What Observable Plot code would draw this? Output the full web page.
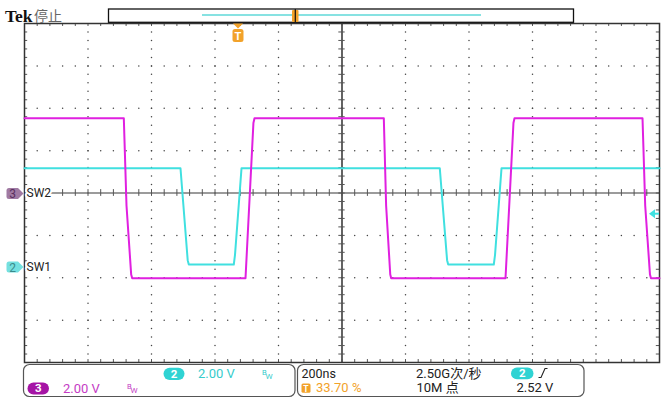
<!DOCTYPE html>
<html><head><meta charset="utf-8">
<script src="https://cdn.jsdelivr.net/npm/d3@7"></script>
<script src="https://cdn.jsdelivr.net/npm/@observablehq/plot@0.6"></script>
<style>
html,body{margin:0;padding:0;background:#fff;}
#chart{position:relative;width:672px;height:417px;overflow:hidden;}
</style>
</head><body><div id="chart"></div>
<script>
// ---------------- data ----------------
const timePerDivNs = 200;
const triggerPosition = 0.337;          // 33.70 %
const voltsPerDiv = 2.00;
const triggerLevelV = 2.52;

// CH2 = SW1 (cyan), marker offset in divisions
const ch2OffsetDiv = -1.76;
const ch2TimeNs = [-674, -182.7, -160, -156.5, -14.8, -11, 9.5, 634.0, 657, 660.5, 804.1, 808, 828.4, 1326];
const ch2Volts  = [4.69, 4.69, 0.35, 0.14, 0.14, 0.6, 4.69, 4.69, 0.35, 0.14, 0.14, 0.6, 4.69, 4.69];

// CH3 = SW2 (magenta)
const ch3OffsetDiv = 0;
const ch3TimeNs = [-674, -361.2, -352.7, -338, -334.8, 22.1, 47, 50.4, 457.7, 465, 478, 480.9, 841.0, 866, 869.3, 1272.5, 1281, 1296, 1299.2, 1326];
const ch3Volts  = [3.53, 3.53, -0.6, -3.85, -4.02, -4.02, 3.3, 3.53, 3.53, -0.6, -3.85, -4.02, -4.02, 3.3, 3.53, 3.53, -0.6, -3.85, -4.02, -4.02];

const channelLabels = ["SW2", "SW1"];
const infoTexts = {scale2: "2.00 V", scale3: "2.00 V", timebase: "200ns", rate: "2.50G次/秒", points: "10M 点", trigPos: "33.70 %", trigLevel: "2.52 V"};

// ---------------- derived ----------------
const recordNs = timePerDivNs * 10;
const x0 = -triggerPosition * recordNs, x1 = (1 - triggerPosition) * recordNs;
const centerX = x0 + 5 * timePerDivNs;
const ch2 = ch2TimeNs.map((t, i) => ({t, y: ch2Volts[i] / voltsPerDiv + ch2OffsetDiv}));
const ch3 = ch3TimeNs.map((t, i) => ({t, y: ch3Volts[i] / voltsPerDiv + ch3OffsetDiv}));

const vLines = d3.range(1, 10).filter(k => k !== 5).map(k => x0 + k * timePerDivNs);
const hLines = d3.range(-3, 4).filter(v => v !== 0);
const minorY = d3.range(-19, 20).map(j => j / 5);
const minorX = d3.range(1, 50).map(j => x0 + j * timePerDivNs / 5);
const gridDots = [];
for (const x of vLines) for (const y of minorY) gridDots.push({x, y});
for (const y of hLines) for (const x of minorX) gridDots.push({x, y});

const CYAN = "#40e0e0", MAG = "#e020e0", ORANGE = "#f2a22a";

const plot = Plot.plot({
  width: 672, height: 417,
  marginLeft: 24, marginRight: 13, marginTop: 23, marginBottom: 55,
  x: {domain: [x0, x1], axis: null},
  y: {domain: [-4, 4], axis: null},
  style: {background: "white", overflow: "visible"},
  marks: [
    Plot.dot(gridDots, {x: "x", y: "y", r: 0.75, fill: "#444", stroke: null}),
    Plot.ruleY([0], {stroke: "#7a7a7a", strokeWidth: 1.5}),
    Plot.ruleX([centerX], {stroke: "#222", strokeWidth: 1.4}),
    Plot.ruleX(minorX, {x: d => d, y1: -0.08, y2: 0.08, stroke: "#555", strokeWidth: 1}),
    Plot.ruleY(minorY, {y: d => d, x1: centerX - 10, x2: centerX + 10, stroke: "#555", strokeWidth: 1}),
    Plot.ruleX(minorX, {x: d => d, y1: 4, y2: 3.93, stroke: "#555"}),
    Plot.ruleX(minorX, {x: d => d, y1: -4, y2: -3.93, stroke: "#555"}),
    Plot.ruleY(minorY, {y: d => d, x1: x0, x2: x0 + 10, stroke: "#555"}),
    Plot.ruleY(minorY, {y: d => d, x1: x1, x2: x1 - 10, stroke: "#555"}),
    Plot.frame({stroke: "#333", strokeWidth: 1.5}),
    Plot.line(ch2, {x: "t", y: "y", stroke: CYAN, strokeWidth: 2, curve: "linear"}),
    Plot.line(ch3, {x: "t", y: "y", stroke: MAG, strokeWidth: 2, curve: "linear"}),
    Plot.text([channelLabels[0]], {x: x0, y: ch3OffsetDiv, text: d => d, textAnchor: "start", dx: 2, fontSize: 12, fill: "#222", stroke: "white", strokeWidth: 4, fontFamily: "Roboto, sans-serif"}),
    Plot.text([channelLabels[1]], {x: x0, y: ch2OffsetDiv, text: d => d, textAnchor: "start", dx: 2, fontSize: 12, fill: "#222", stroke: "white", strokeWidth: 4, fontFamily: "Roboto, sans-serif"})
  ]
});
document.getElementById("chart").appendChild(plot);

const sx = plot.scale("x"), sy = plot.scale("y");
const svg = d3.select(plot);
const F = "Roboto, 'Noto Sans CJK SC', sans-serif";
function txt(x, y, s, o = {}) {
  return svg.append("text").attr("x", x).attr("y", y).text(s)
    .attr("font-family", o.family || F).attr("font-size", o.size || 12.5)
    .attr("font-weight", o.weight || 400).attr("fill", o.fill || "#222")
    .attr("text-anchor", o.anchor || "start");
}

// header
txt(5, 22, "Tek", {family: "'Liberation Serif', serif", size: 17.5, weight: 700, fill: "#111"});
txt(34, 21, "停止", {family: "'Noto Sans CJK SC', sans-serif", size: 14, fill: "#666"});
svg.append("rect").attr("x", 108.5).attr("y", 9).attr("width", 465).attr("height", 13.3)
  .attr("fill", "white").attr("stroke", "#111").attr("stroke-width", 1.3);
svg.append("line").attr("x1", 202).attr("x2", 481).attr("y1", 15).attr("y2", 15).attr("stroke", "#5fd9d9").attr("stroke-width", 1.6);
svg.append("rect").attr("x", 292).attr("y", 10).attr("width", 6.5).attr("height", 12).attr("fill", ORANGE).attr("rx", 1);
svg.append("line").attr("x1", 295.3).attr("x2", 295.3).attr("y1", 9).attr("y2", 22).attr("stroke", "#111").attr("stroke-width", 1.2);

// trigger position marker
const tx = sx.apply(0);
svg.append("path").attr("d", `M${tx-5},23.5 L${tx+5},23.5 L${tx},28.5 Z`).attr("fill", ORANGE);
svg.append("rect").attr("x", tx - 5.5).attr("y", 29).attr("width", 11).attr("height", 13).attr("rx", 2.5).attr("fill", ORANGE);
txt(tx, 39.8, "T", {size: 11, weight: 700, fill: "white", anchor: "middle"});

// channel markers at left
function chMarker(yc, fill, tf, label) {
  svg.append("path").attr("d", `M9,${yc-5.5} H18 L23.5,${yc} L18,${yc+5.5} H9 Q6.5,${yc+5.5} 6.5,${yc+3} V${yc-3} Q6.5,${yc-5.5} 9,${yc-5.5} Z`).attr("fill", fill);
  txt(12.5, yc + 4.5, label, {size: 12, fill: tf, anchor: "middle"});
}
chMarker(sy.apply(ch3OffsetDiv) + 1, "#a07aa3", "#5a2f5e", "3");
chMarker(sy.apply(ch2OffsetDiv), "#74e0e0", "#3a8a8a", "2");

// trigger level arrow at right
const ty = sy.apply(triggerLevelV / voltsPerDiv + ch2OffsetDiv);
svg.append("path").attr("d", `M649,${ty} L655,${ty-4.5} L655,${ty+4.5} Z`).attr("fill", CYAN);
svg.append("line").attr("x1", 654).attr("x2", 659).attr("y1", ty).attr("y2", ty).attr("stroke", CYAN).attr("stroke-width", 2);

// bottom info boxes
function box(x, w) {
  svg.append("rect").attr("x", x).attr("y", 364.5).attr("width", w).attr("height", 32).attr("rx", 6)
    .attr("fill", "white").attr("stroke", "#555").attr("stroke-width", 1.2);
}
box(23.5, 271.5);
box(297.5, 286.5);
function pill(x, y, w, h, fill, label) {
  svg.append("rect").attr("x", x).attr("y", y).attr("width", w).attr("height", h).attr("rx", h / 2).attr("fill", fill);
  txt(x + w / 2, y + h - 2.5, label, {size: 11.5, weight: 700, fill: "white", anchor: "middle"});
}
function bw(x, y, fill) {
  txt(x, y - 4, "B", {size: 7.5, fill});
  txt(x + 3.5, y, "W", {size: 8, fill});
}
pill(163.5, 367.7, 21, 12.3, "#2fd3d3", "2");
txt(198, 378.3, infoTexts.scale2, {fill: "#36cccc", size: 13});
bw(262, 379, "#36cccc");
pill(27.5, 382.5, 21.5, 12, "#a514a5", "3");
txt(63, 392.5, infoTexts.scale3, {fill: "#c43cc4", size: 13});
bw(127, 393, "#c43cc4");

txt(301.5, 377.8, infoTexts.timebase);
svg.append("rect").attr("x", 301.5).attr("y", 383.5).attr("width", 9).attr("height", 9.3).attr("rx", 1.5).attr("fill", ORANGE);
txt(306, 391.5, "T", {size: 8.5, weight: 700, fill: "white", anchor: "middle"});
txt(316, 392.3, infoTexts.trigPos, {fill: ORANGE, size: 13});
txt(416, 377.8, infoTexts.rate, {size: 13});
txt(416.5, 392.3, infoTexts.points, {size: 13});
pill(511, 367.5, 22.5, 11.8, "#2fd3d3", "2");
svg.append("path").attr("d", "M538.5,377.5 H541 L545,368.5 H547.5").attr("fill", "none").attr("stroke", "#222").attr("stroke-width", 1.1);
txt(516.5, 392.3, infoTexts.trigLevel, {size: 13});
</script>
</body></html>
